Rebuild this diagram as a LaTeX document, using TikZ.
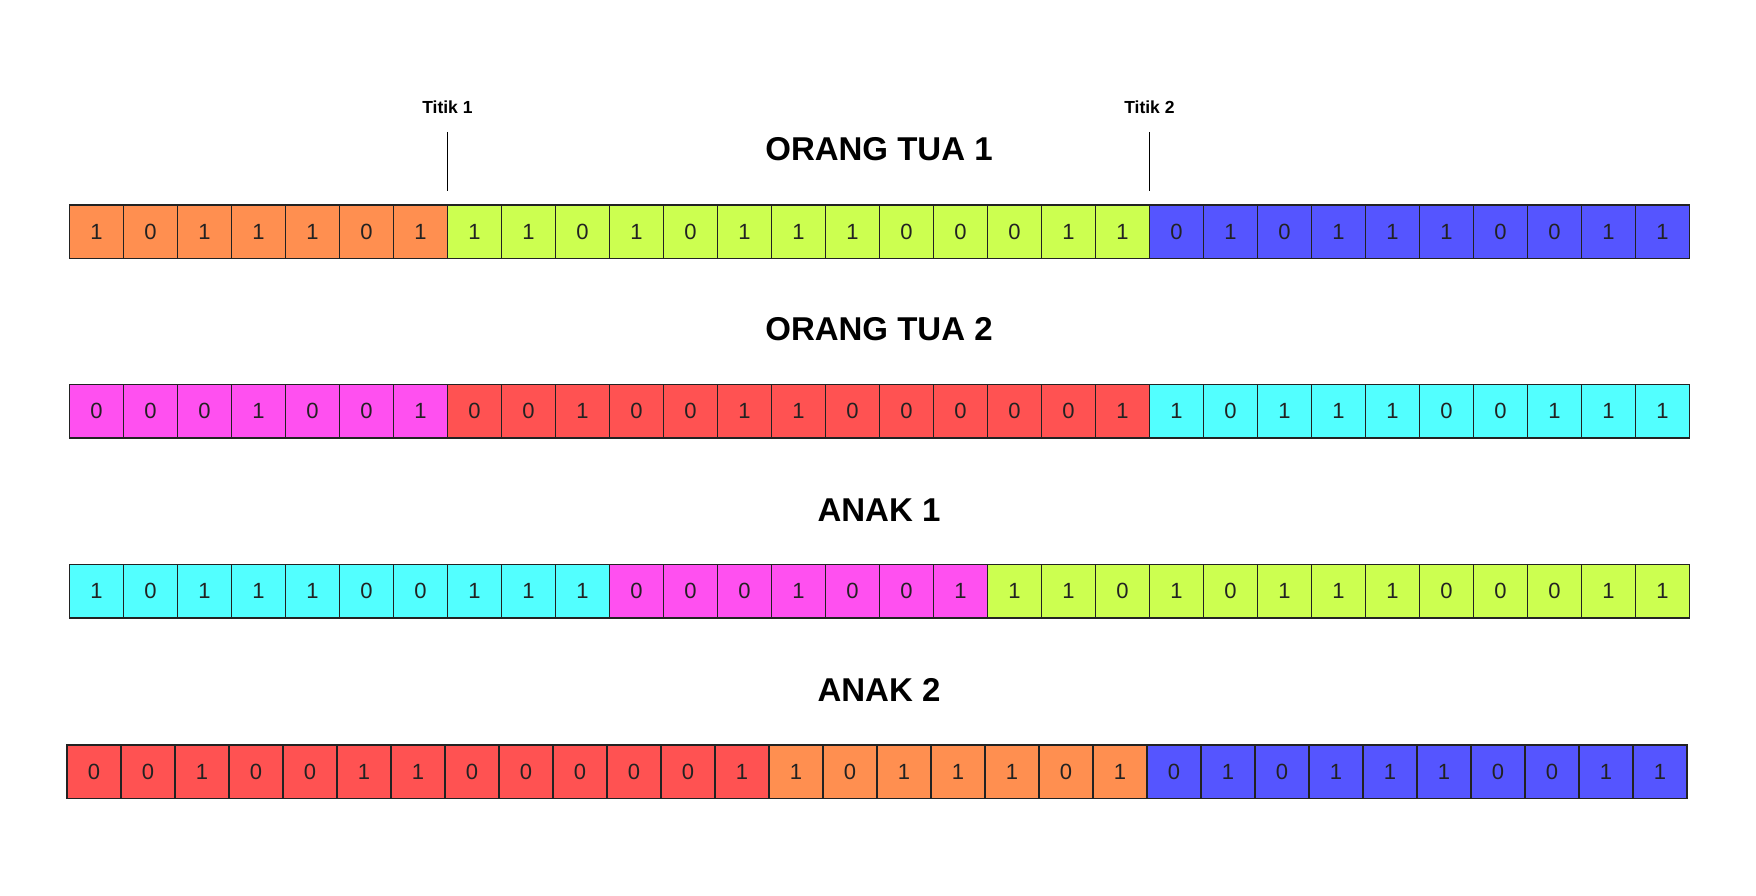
\documentclass[tikz,border=0pt]{standalone}
\usepackage{fontspec}
\setmainfont{Liberation Sans}
\definecolor{cor}{RGB}{255,143,80}
\definecolor{cli}{RGB}{204,255,80}
\definecolor{cbl}{RGB}{85,85,255}
\definecolor{cma}{RGB}{255,80,240}
\definecolor{cre}{RGB}{255,82,82}
\definecolor{ccy}{RGB}{82,255,255}
\definecolor{edge}{RGB}{34,34,34}
\begin{document}
\begin{tikzpicture}[x=1pt,y=-1pt,
  cell/.style={draw=edge, line width=1.8pt, minimum width=54pt, minimum height=53.5pt,
    inner sep=0pt, outer sep=0pt, anchor=north west, text=edge,
    font=\fontsize{22}{22}\selectfont},
  rowtitle/.style={font=\bfseries\fontsize{33}{33}\selectfont, text=black},
  ticklabel/.style={font=\bfseries\fontsize{17.5}{17.5}\selectfont, text=black},
  tickline/.style={draw=black, line width=1.8pt}]
\useasboundingbox (0,0) rectangle (1756,896);

% titles
\node[rowtitle] (t1) at (879,149) {ORANG TUA 1};
\node[rowtitle] (t2) at (879,329) {ORANG TUA 2};
\node[rowtitle] (t3) at (879,510) {ANAK 1};
\node[rowtitle] (t4) at (879,690) {ANAK 2};

% row 1
\foreach \v/\c [count=\i] in {1/cor,0/cor,1/cor,1/cor,1/cor,0/cor,1/cor,
  1/cli,1/cli,0/cli,1/cli,0/cli,1/cli,1/cli,1/cli,0/cli,0/cli,0/cli,1/cli,1/cli,
  0/cbl,1/cbl,0/cbl,1/cbl,1/cbl,1/cbl,0/cbl,0/cbl,1/cbl,1/cbl}
  \node[cell, fill=\c] (ra\i) at ({69.4+(\i-1)*54}, 205) {\v};

% row 2
\foreach \v/\c [count=\i] in {0/cma,0/cma,0/cma,1/cma,0/cma,0/cma,1/cma,
  0/cre,0/cre,1/cre,0/cre,0/cre,1/cre,1/cre,0/cre,0/cre,0/cre,0/cre,0/cre,1/cre,
  1/ccy,0/ccy,1/ccy,1/ccy,1/ccy,0/ccy,0/ccy,1/ccy,1/ccy,1/ccy}
  \node[cell, fill=\c] (rb\i) at ({69.4+(\i-1)*54}, 384.5) {\v};

% row 3
\foreach \v/\c [count=\i] in {1/ccy,0/ccy,1/ccy,1/ccy,1/ccy,0/ccy,0/ccy,1/ccy,1/ccy,1/ccy,
  0/cma,0/cma,0/cma,1/cma,0/cma,0/cma,1/cma,
  1/cli,1/cli,0/cli,1/cli,0/cli,1/cli,1/cli,1/cli,0/cli,0/cli,0/cli,1/cli,1/cli}
  \node[cell, fill=\c] (rc\i) at ({69.4+(\i-1)*54}, 564.5) {\v};

% row 4
\foreach \v/\c [count=\i] in {0/cre,0/cre,1/cre,0/cre,0/cre,1/cre,1/cre,0/cre,0/cre,0/cre,0/cre,0/cre,1/cre,
  1/cor,0/cor,1/cor,1/cor,1/cor,0/cor,1/cor,
  0/cbl,1/cbl,0/cbl,1/cbl,1/cbl,1/cbl,0/cbl,0/cbl,1/cbl,1/cbl}
  \node[cell, fill=\c] (rd\i) at ({67+(\i-1)*54}, 745) {\v};

% crossover points
\coordinate (k1a) at ([yshift=73pt]ra7.north east);
\coordinate (k2a) at ([yshift=73pt]ra20.north east);
\coordinate (k1b) at ([yshift=13.5pt]ra7.north east);
\coordinate (k2b) at ([yshift=13.5pt]ra20.north east);
\node[ticklabel] (k1) at ([yshift=24.5pt]k1a) {Titik 1};
\node[ticklabel] (k2) at ([yshift=24.5pt]k2a) {Titik 2};
\draw[tickline] (k1a) -- (k1b);
\draw[tickline] (k2a) -- (k2b);
\end{tikzpicture}
\end{document}
